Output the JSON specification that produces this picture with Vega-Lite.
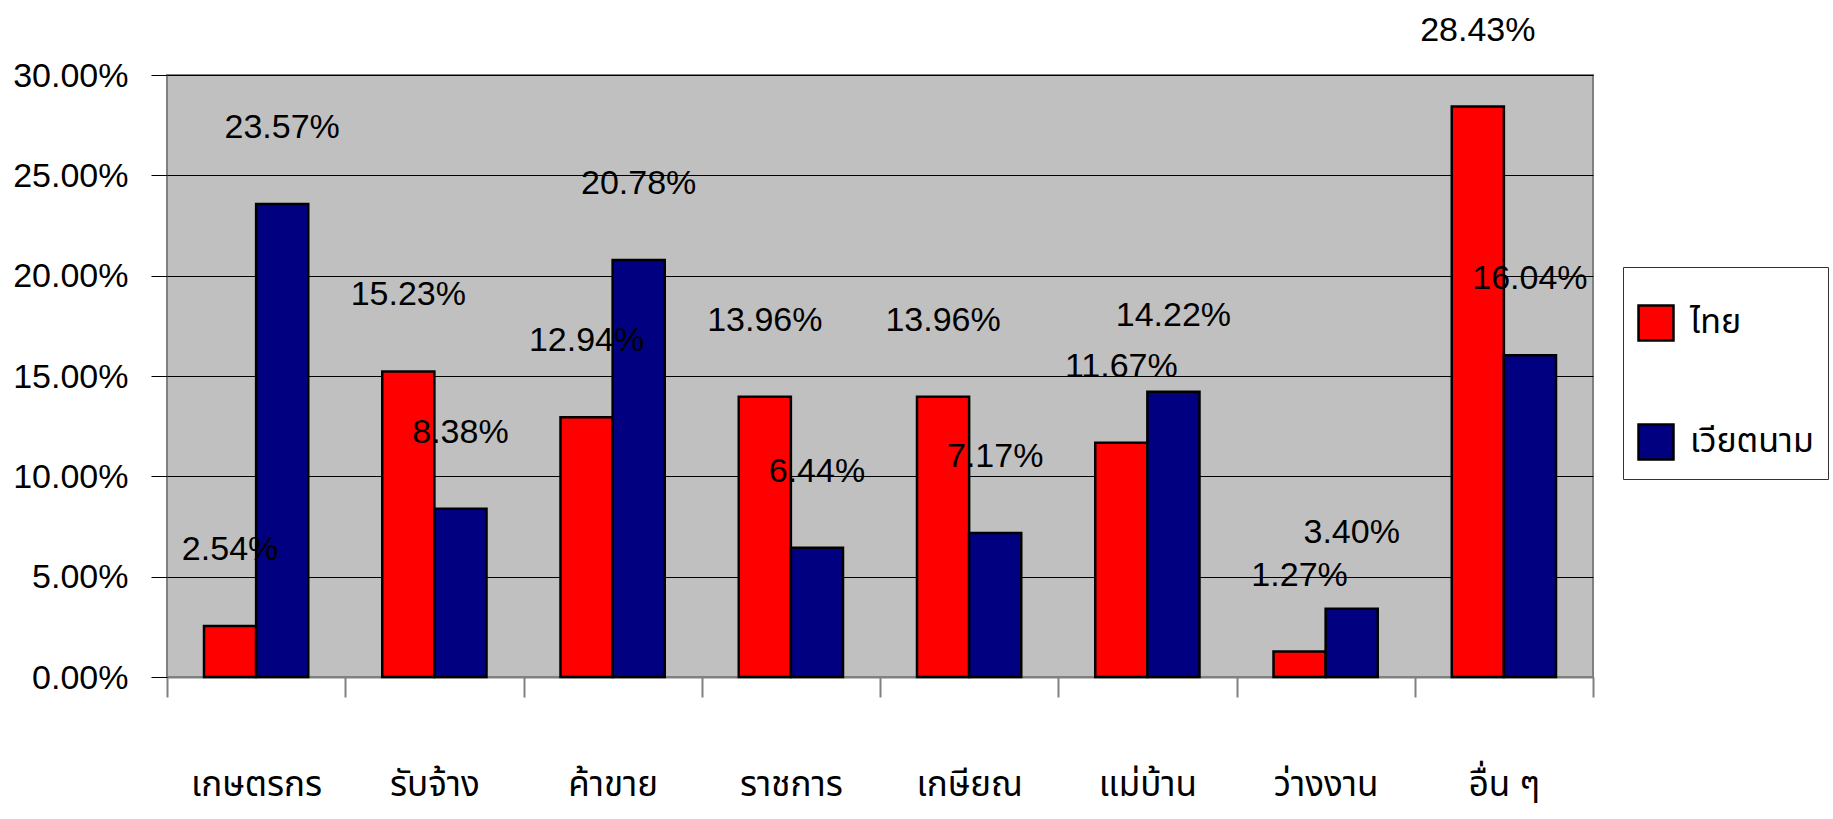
{
  "$schema": "https://vega.github.io/schema/vega-lite/v6.json",
  "width": 1426,
  "height": 602,
  "autosize": {"type": "none"},
  "padding": {"left": 167, "top": 75, "right": 240, "bottom": 142},
  "background": "white",
  "data": {
    "values": [
      {"อาชีพ": "เกษตรกร", "ประเทศ": "ไทย", "ร้อยละ": 0.0254},
      {"อาชีพ": "เกษตรกร", "ประเทศ": "เวียตนาม", "ร้อยละ": 0.2357},
      {"อาชีพ": "รับจ้าง", "ประเทศ": "ไทย", "ร้อยละ": 0.1523},
      {"อาชีพ": "รับจ้าง", "ประเทศ": "เวียตนาม", "ร้อยละ": 0.0838},
      {"อาชีพ": "ค้าขาย", "ประเทศ": "ไทย", "ร้อยละ": 0.1294},
      {"อาชีพ": "ค้าขาย", "ประเทศ": "เวียตนาม", "ร้อยละ": 0.2078},
      {"อาชีพ": "ราชการ", "ประเทศ": "ไทย", "ร้อยละ": 0.1396},
      {"อาชีพ": "ราชการ", "ประเทศ": "เวียตนาม", "ร้อยละ": 0.0644},
      {"อาชีพ": "เกษียณ", "ประเทศ": "ไทย", "ร้อยละ": 0.1396},
      {"อาชีพ": "เกษียณ", "ประเทศ": "เวียตนาม", "ร้อยละ": 0.0717},
      {"อาชีพ": "แม่บ้าน", "ประเทศ": "ไทย", "ร้อยละ": 0.1167},
      {"อาชีพ": "แม่บ้าน", "ประเทศ": "เวียตนาม", "ร้อยละ": 0.1422},
      {"อาชีพ": "ว่างงาน", "ประเทศ": "ไทย", "ร้อยละ": 0.0127},
      {"อาชีพ": "ว่างงาน", "ประเทศ": "เวียตนาม", "ร้อยละ": 0.034},
      {"อาชีพ": "อื่น ๆ", "ประเทศ": "ไทย", "ร้อยละ": 0.2843},
      {"อาชีพ": "อื่น ๆ", "ประเทศ": "เวียตนาม", "ร้อยละ": 0.1604}
    ]
  },
  "encoding": {
    "x": {
      "field": "อาชีพ",
      "type": "nominal",
      "sort": null,
      "scale": {"paddingInner": 0, "paddingOuter": 0},
      "axis": {
        "title": null,
        "tickBand": "extent",
        "grid": false,
        "labelAngle": 0,
        "labelFont": "Noto Sans Thai, Noto Sans Thai Looped, Loma, Garuda, Norasi, Tlwg Typo, sans-serif",
        "labelFontSize": 35,
        "labelColor": "black",
        "labelBaseline": "top",
        "labelPadding": 70,
        "tickSize": 20,
        "tickColor": "#808080",
        "tickWidth": 2,
        "domainColor": "#808080",
        "domainWidth": 2
      }
    },
    "xOffset": {
      "field": "ประเทศ",
      "type": "nominal",
      "sort": ["ไทย", "เวียตนาม"],
      "scale": {"paddingInner": 0, "paddingOuter": 0.71}
    },
    "y": {
      "field": "ร้อยละ",
      "type": "quantitative",
      "scale": {"domain": [0, 0.3], "nice": false},
      "axis": {
        "title": null,
        "format": ".2%",
        "values": [0, 0.05, 0.1, 0.15, 0.2, 0.25, 0.3],
        "labelFont": "Liberation Sans, Arial, sans-serif",
        "labelFontSize": 34,
        "labelColor": "black",
        "labelPadding": 23,
        "labelBaseline": "middle",
        "labelOffset": 1,
        "tickSize": 16,
        "tickColor": "black",
        "tickWidth": 1,
        "domain": false,
        "grid": true,
        "gridColor": "black",
        "gridWidth": 1,
        "gridOpacity": 1
      }
    }
  },
  "layer": [
    {
      "mark": {"type": "bar", "stroke": "black", "strokeWidth": 2.5},
      "encoding": {
        "color": {
          "field": "ประเทศ",
          "type": "nominal",
          "sort": ["ไทย", "เวียตนาม"],
          "scale": {"domain": ["ไทย", "เวียตนาม"], "range": ["#FF0000", "#000080"]},
          "legend": {
            "title": " ",
            "titleFontSize": 1,
            "titlePadding": 22,
            "orient": "none",
            "legendX": 1456,
            "legendY": 192,
            "fillColor": "white",
            "strokeColor": "#333333",
            "padding": 14,
            "symbolType": "square",
            "symbolSize": 1225,
            "symbolStrokeColor": "black",
            "symbolStrokeWidth": 2.5,
            "symbolOpacity": 1,
            "labelFont": "Noto Sans Thai, Noto Sans Thai Looped, Loma, Garuda, Norasi, Tlwg Typo, sans-serif",
            "labelFontSize": 34,
            "labelColor": "black",
            "labelOffset": 15,
            "rowPadding": 73
          }
        }
      }
    },
    {
      "mark": {
        "type": "text",
        "baseline": "alphabetic",
        "align": "center",
        "dy": -66,
        "font": "Liberation Sans, Arial, sans-serif",
        "fontSize": 34,
        "color": "black"
      },
      "encoding": {
        "text": {"field": "ร้อยละ", "type": "quantitative", "format": ".2%"}
      }
    }
  ],
  "config": {
    "view": {"fill": "#C0C0C0", "stroke": "#808080", "strokeWidth": 2}
  }
}
